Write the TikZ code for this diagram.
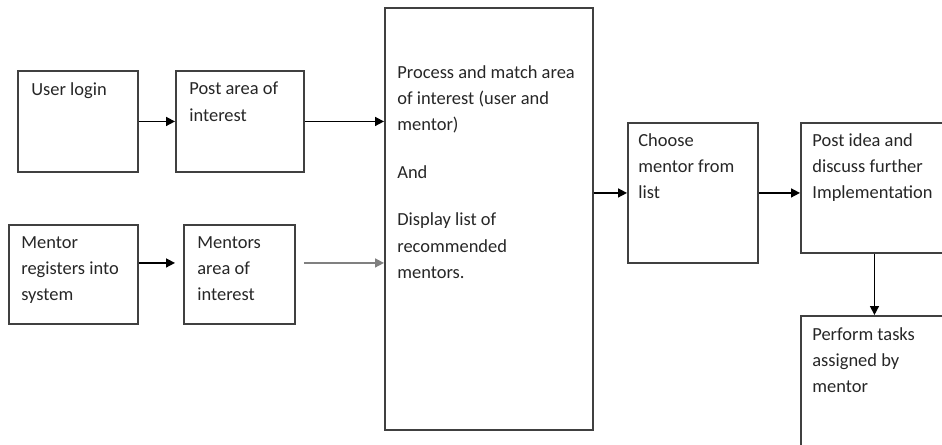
\documentclass[tikz,border=0pt]{standalone}
\usepackage{fontspec}
\setmainfont{Carlito}
\usetikzlibrary{arrows.meta,positioning,calc}

\tikzset{
  box/.style={draw=black!75, line width=1.1pt, rectangle, inner sep=0pt, anchor=north west},
  % first baseline sits at the given point
  lbl/.style={anchor=north west, yshift=8pt, align=left, inner sep=0pt,
    font=\fontsize{10.5}{15}\selectfont, text=black!85,
    execute at begin node={\rule{0pt}{8pt}}},
  arr/.style={-{Triangle[length=5pt,width=5pt]}, line width=0.9pt},
}

\begin{document}
\begin{tikzpicture}[x=0.02cm, y=-0.02cm]
  \useasboundingbox (0,0) rectangle (942,445);
  \clip (0,0) rectangle (942,445);

  % boxes on the left
  \node[box, minimum width=2.4cm, minimum height=2.02cm] (user) at (17,70) {};
  \node[box, minimum width=2.56cm, minimum height=2.02cm] (post) at (175,70) {};
  \node[box, minimum width=2.58cm, minimum height=1.98cm] (mentor) at (8,224) {};
  \node[box, minimum width=2.22cm, minimum height=1.98cm] (mentors) at (183,224) {};

  % the tall one in the middle
  \node[box, minimum width=4.16cm, minimum height=8.44cm] (proc) at (384,7) {};

  % boxes on the right
  \node[box, minimum width=2.6cm, minimum height=2.8cm] (choose) at (627,122) {};
  \node[box, minimum width=2.94cm, minimum height=2.6cm] (idea) at (800,122) {};
  \node[box, minimum width=2.94cm, minimum height=3.2cm] (perform) at (800,315) {};

  % texts
  \node[lbl] (user-t) at ($(user.north west)+(14,25)$) {User login};
  \node[lbl] (post-t) at ($(post.north west)+(14,26)$) {Post area of\\interest};
  \node[lbl] (mentor-t) at ($(mentor.north west)+(13,26)$) {Mentor\\registers into\\system};
  \node[lbl] (mentors-t) at ($(mentors.north west)+(14,26)$) {Mentors\\area of\\interest};
  \node[lbl] (proc-t) at ($(proc.north west)+(13,72)$) {Process and match area\\of interest (user and\\mentor)\\[12pt]And\\[12pt]Display list of\\recommended\\mentors.};
  \node[lbl] (choose-t) at ($(choose.north west)+(11,25)$) {Choose\\mentor from\\list};
  \node[lbl] (idea-t) at ($(idea.north west)+(12,25)$) {Post idea and\\discuss further\\Implementation};
  \node[lbl] (perform-t) at ($(perform.north west)+(12,26)$) {Perform tasks\\assigned by\\mentor};

  % arrows
  \coordinate (m-in) at ($(mentors.west)+(-8,-11.5)$);
  \coordinate (m-out) at ($(mentors.east)+(8,-11.5)$);
  \draw[arr] (user) -- (post);
  \draw[arr] (post.east) -- (post.east -| proc.west);
  \draw[arr] ($(mentor.east)+(0,-11.5)$) -- (m-in);
  \draw[arr, draw=black!50] (m-out) -- (m-out -| proc.west);
  \draw[arr] (choose.west -| proc.east) -- (choose.west);
  \draw[arr] (choose.east) -- (choose.east -| idea.west);
  \draw[arr] (idea.south) -- (idea.south |- perform.north);
\end{tikzpicture}
\end{document}
